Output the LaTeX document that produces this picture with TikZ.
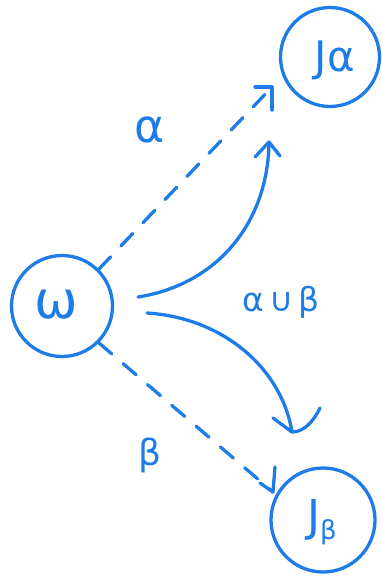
\documentclass[tikz,border=0pt]{standalone}
\usepackage{fontspec}
\setmainfont{DejaVu Sans}
\definecolor{inkblue}{RGB}{30,124,232}
\begin{document}
\begin{tikzpicture}[x=1pt,y=-1pt,
  ink/.style={draw=inkblue, line width=3.3pt, line cap=round, line join=round},
  dashline/.style={ink, dash pattern=on 17pt off 15pt},
  state/.style={circle, ink, inner sep=0pt},
  lbl/.style={text=inkblue, inner sep=0pt}]
\useasboundingbox (0,0) rectangle (381,578);

% states
\node[state, minimum size=101pt] (w)  at (62,306) {};
\node[state, minimum size=99pt]  (ja) at (330,57) {};
\node[state, minimum size=104pt] (jb) at (323,520) {};

\node[lbl, font=\fontsize{52}{52}\selectfont] (wt) at (56,305) {ω};
\node[lbl, font=\fontsize{42}{42}\selectfont] (jat) at (335,60) {Jα};
\node[lbl, font=\fontsize{44}{44}\selectfont] (jbt) at (322,522) {J\raisebox{-8pt}{\fontsize{26}{26}\selectfont β}};

% edge labels
\node[lbl, font=\fontsize{46}{46}\selectfont] (la) at (150,130) {α};
\node[lbl, font=\fontsize{33}{33}\selectfont] (lab) at (281,302) {α\,∪\,β};
\node[lbl, font=\fontsize{36}{36}\selectfont] (lb) at (150,455) {β};

% arrow tips
\coordinate (ta) at (272,87);
\coordinate (tb) at (273,492);
\coordinate (sa) at (269,142);
\coordinate (sb) at (292,432);

% dashed transitions
\draw[dashline] (w.45) -- (ta);
\draw[ink] (ta) -- ++(-17,0) (ta) -- ++(0,23);
\draw[dashline] (w.-45) -- (tb);
\draw[ink] (tb) -- ++(-13,-9) (tb) -- ++(2,-25);

% solid transitions
\draw[ink] (138,297) .. controls (215,285) and (268,225) .. (sa);
\draw[ink] (sa) -- ++(-14,15) (sa) -- ++(11,14);
\draw[ink] (147,313) .. controls (225,318) and (282,370) .. (sb);
\draw[ink] (sb) -- ++(-19,-14) (sb) .. controls ++(14,0) and ++(-5,10) .. ++(28,-24);
\end{tikzpicture}
\end{document}
